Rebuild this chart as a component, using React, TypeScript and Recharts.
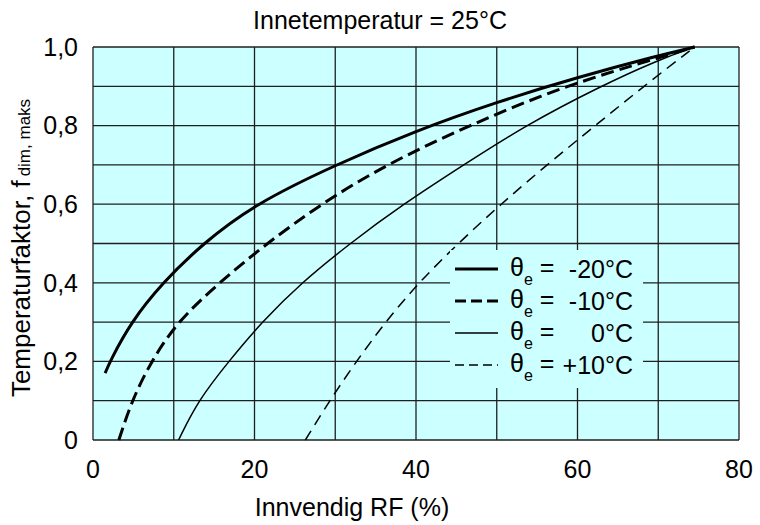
import { LineChart, Line, XAxis, YAxis, CartesianGrid, Legend } from "recharts";

// Innvendig RF (%) and temperaturfaktor, one pair per outdoor temperature
const rfMinus20 = [1.5, 2.1, 4.7, 8.6, 13.6, 20, 30, 40, 50, 60, 70, 74.5];
const fMinus20 = [0.17, 0.2, 0.3, 0.4, 0.5, 0.6, 0.7, 0.787, 0.86, 0.923, 0.978, 1.0];

const rfMinus10 = [3.2, 4.8, 7.2, 10.4, 15.6, 21.5, 28.2, 36.2, 46.5, 58.2, 70, 74.5];
const fMinus10 = [0, 0.1, 0.2, 0.3, 0.4, 0.5, 0.6, 0.7, 0.8, 0.9, 0.972, 1.0];

const rfZero = [10.6, 13.0, 16.8, 20.9, 25.8, 31.8, 38.4, 45.9, 53.5, 62.8, 70, 74.5];
const fZero = [0, 0.1, 0.2, 0.3, 0.4, 0.5, 0.6, 0.7, 0.8, 0.9, 0.967, 1.0];

const rfPlus10 = [26.3, 29.3, 32.6, 36.2, 40.3, 45.2, 50.5, 56.2, 62.2, 68.2, 74.5];
const fPlus10 = [0, 0.1, 0.2, 0.3, 0.4, 0.5, 0.6, 0.7, 0.8, 0.9, 1.0];

const seriesLabels = ["-20°C", "-10°C", "0°C", "+10°C"];
const xTicks = [0, 10, 20, 30, 40, 50, 60, 70, 80];
const yTicks = [0, 0.1, 0.2, 0.3, 0.4, 0.5, 0.6, 0.7, 0.8, 0.9, 1.0];

const FONT = "'Liberation Sans', Arial, Helvetica, sans-serif";
const PLOT_BG = "#ccffff";

const toPoints = (rf: number[], f: number[]) => rf.map((x, i) => ({ rf: x, f: f[i] }));

const series = [
  toPoints(rfMinus20, fMinus20),
  toPoints(rfMinus10, fMinus10),
  toPoints(rfZero, fZero),
  toPoints(rfPlus10, fPlus10),
];

const lineStyles = [
  { width: 3, dash: undefined as string | undefined },
  { width: 3, dash: "13 6" },
  { width: 1.5, dash: undefined },
  { width: 1.5, dash: "11 7" },
];

const legendDash = [undefined, "11 5", undefined, "9 5"];

function LegendBox() {
  return (
    <div
      style={{
        background: PLOT_BG,
        width: 193,
        height: 138,
        paddingTop: 3,
        boxSizing: "border-box",
        fontFamily: FONT,
        fontSize: 25,
        color: "#000",
      }}
    >
      {seriesLabels.map((label, i) => (
        <div key={label} style={{ height: 32, display: "flex", alignItems: "center", lineHeight: "25px" }}>
          <svg width={60} height={10} style={{ flex: "none" }}>
            <line
              x1={5}
              x2={48}
              y1={5}
              y2={5}
              stroke="#000"
              strokeWidth={lineStyles[i].width}
              strokeDasharray={legendDash[i]}
            />
          </svg>
          <span style={{ whiteSpace: "nowrap" }}>
            θ<span style={{ fontSize: 16, position: "relative", top: 9 }}>e</span> =
          </span>
          <span style={{ flex: 1, textAlign: "right", paddingRight: 10, whiteSpace: "nowrap" }}>{label}</span>
        </div>
      ))}
    </div>
  );
}

function YTitle() {
  return (
    <text
      x={30}
      y={248}
      transform="rotate(-90, 30, 248)"
      textAnchor="middle"
      fontFamily={FONT}
      fontSize={26}
      fill="#000"
    >
      Temperaturfaktor, f
      <tspan fontSize={17} dx={4}>dim, maks</tspan>
    </text>
  );
}

function XTitle() {
  return (
    <text x={352} y={516} textAnchor="middle" fontFamily={FONT} fontSize={25} fill="#000">
      Innvendig RF (%)
    </text>
  );
}

const fmtX = (v: number) => (v % 20 === 0 ? String(v) : "");
const fmtY = (v: number) => {
  if (Math.round(v * 10) % 2 !== 0) return "";
  return v === 0 ? "0" : v.toFixed(1).replace(".", ",");
};

export default function App() {
  return (
    <div style={{ position: "relative", width: 760, height: 525, background: "#fff", fontFamily: FONT }}>
      <style>{"body{margin:0}"}</style>
      <div
        style={{
          position: "absolute",
          top: 8,
          left: 0,
          width: 760,
          textAlign: "center",
          fontSize: 25,
          lineHeight: "25px",
          color: "#000",
        }}
      >
        Innetemperatur = 25°C
      </div>
      <LineChart width={760} height={525} margin={{ top: 47, right: 21, bottom: 0, left: 0 }}>
        <CartesianGrid stroke="#1f1f1f" strokeWidth={1.3} fill={PLOT_BG} fillOpacity={1} />
        <XAxis
          type="number"
          dataKey="rf"
          domain={[0, 80]}
          ticks={xTicks}
          tickFormatter={fmtX}
          height={85}
          axisLine={false}
          tickLine={false}
          tickMargin={14}
          tick={{ fontSize: 25, fill: "#000", fontFamily: FONT }}
          label={<XTitle />}
        />
        <YAxis
          type="number"
          domain={[0, 1]}
          ticks={yTicks}
          tickFormatter={fmtY}
          width={93}
          axisLine={false}
          tickLine={false}
          tickMargin={9}
          tick={{ fontSize: 25, fill: "#000", fontFamily: FONT }}
          label={<YTitle />}
        />
        {series.map((data, i) => (
          <Line
            key={seriesLabels[i]}
            data={data}
            dataKey="f"
            type="basis"
            stroke="#000"
            strokeWidth={lineStyles[i].width}
            strokeDasharray={lineStyles[i].dash}
            dot={false}
            activeDot={false}
            isAnimationActive={false}
          />
        ))}
        <Legend
          layout="vertical"
          align="center"
          verticalAlign="middle"
          content={() => <LegendBox />}
          wrapperStyle={{ left: 450, top: 250, width: 193, height: 138 }}
        />
      </LineChart>
    </div>
  );
}
